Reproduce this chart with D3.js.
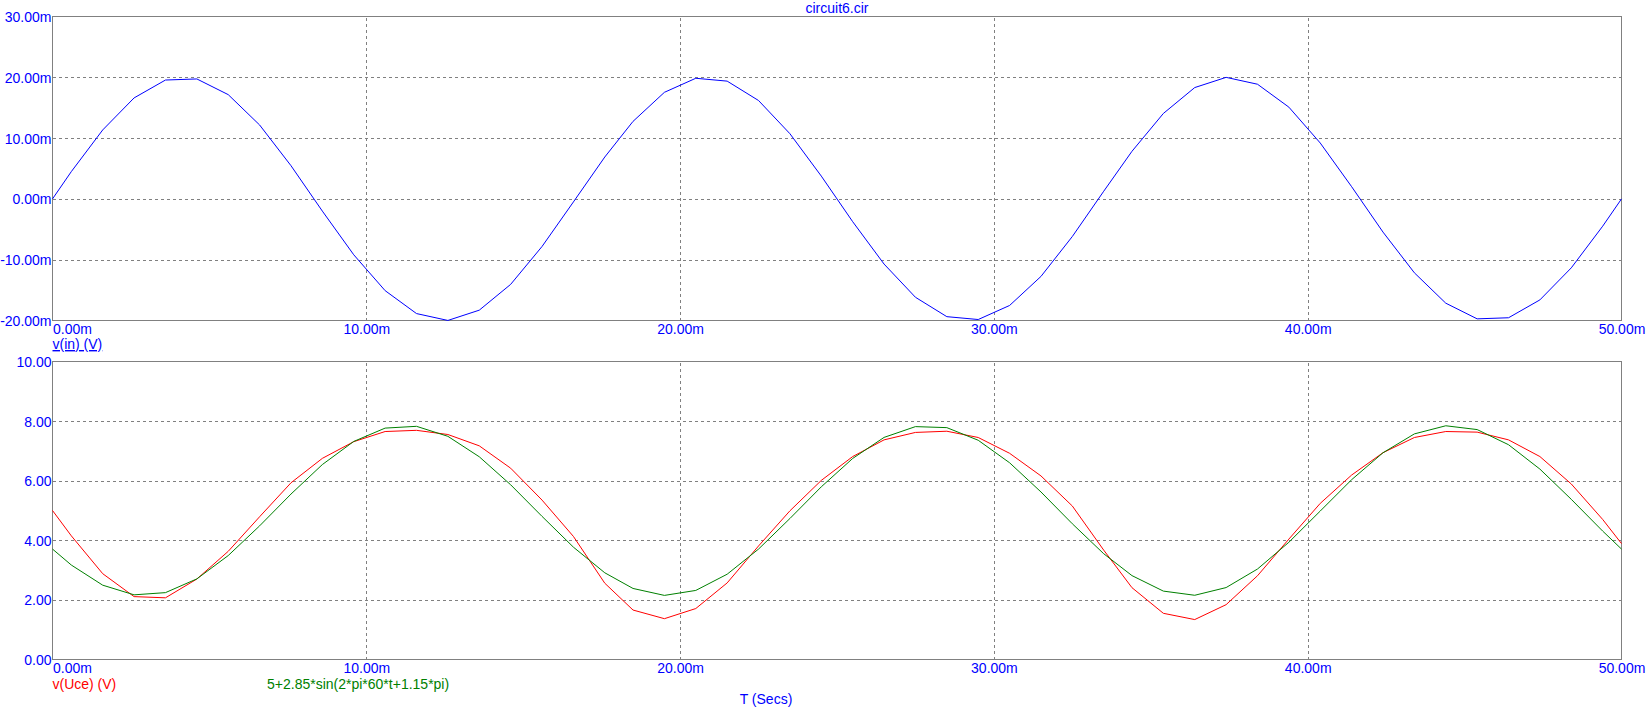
<!DOCTYPE html>
<html>
<head>
<meta charset="utf-8">
<script src="https://cdn.jsdelivr.net/npm/d3@7"></script>
<style>
  html, body { margin: 0; padding: 0; background: #fff; }
  svg { display: block; }
  text { font-family: "Liberation Sans", Arial, sans-serif; font-size: 14px; }
</style>
</head>
<body>
<svg id="chart" width="1649" height="710"></svg>
<script>
// ---- data (time in ms) ----
const timeMs = [0, 0.6, 1.6, 2.6, 3.6, 4.6, 5.6, 6.6, 7.6, 8.6, 9.6, 10.6, 11.6, 12.6, 13.6, 14.6, 15.6, 16.6, 17.6,
  18.5, 19.5, 20.5, 21.5, 22.5, 23.5, 24.5, 25.5, 26.5, 27.5, 28.5, 29.5, 30.5, 31.5, 32.5, 33.5,
  34.4, 35.4, 36.4, 37.4, 38.4, 39.4, 40.4, 41.4, 42.4, 43.4, 44.4, 45.4, 46.4, 47.4, 48.4, 49.4, 50];

// v(in) in mV
const vIn = [0, 4.49, 11.34, 16.61, 19.55, 19.73, 17.15, 12.16, 5.46, -2.01, -9.19, -15.09, -18.86, -19.99, -18.30, -14.06, -7.83, -0.50, 6.89,
  12.75, 17.53, 19.84, 19.37, 16.18, 10.72, 3.75, -3.75, -10.72, -16.18, -19.37, -19.84, -17.53, -12.75, -6.18, 1.26,
  7.83, 14.05, 18.31, 19.99, 18.86, 15.09, 9.19, 2.01, -5.46, -12.16, -17.15, -19.73, -19.55, -16.61, -11.34, -4.49, 0];

// v(Uce) in V
const vUce = [5.00, 4.15, 2.88, 2.11, 2.07, 2.70, 3.63, 4.79, 5.93, 6.75, 7.31, 7.65, 7.69, 7.55, 7.17, 6.42, 5.35, 4.13, 2.56,
  1.66, 1.37, 1.71, 2.57, 3.81, 4.99, 6.01, 6.81, 7.37, 7.62, 7.66, 7.45, 6.92, 6.16, 5.15, 3.67,
  2.41, 1.55, 1.34, 1.84, 2.81, 4.04, 5.24, 6.19, 6.94, 7.45, 7.65, 7.63, 7.37, 6.81, 5.89, 4.70, 3.89];

// fitted curve 5+2.85*sin(2*pi*60*t+1.15*pi) in V
const vFit = [3.706, 3.170, 2.494, 2.170, 2.244, 2.705, 3.488, 4.484, 5.552, 6.542, 7.317, 7.765, 7.825, 7.489, 6.803, 5.864, 4.803, 3.770, 2.910,
  2.384, 2.151, 2.318, 2.862, 3.706, 4.732, 5.795, 6.747, 7.453, 7.815, 7.781, 7.357, 6.602, 5.622, 4.554, 3.549,
  2.815, 2.295, 2.155, 2.414, 3.036, 3.934, 4.982, 6.033, 6.938, 7.571, 7.843, 7.716, 7.207, 6.389, 5.375, 4.309, 3.706];

const xTicks = [0, 10, 20, 30, 40, 50];
const xTickLabels = ["0.00m", "10.00m", "20.00m", "30.00m", "40.00m", "50.00m"];
const topTicks = [-20, -10, 0, 10, 20, 30];
const topTickLabels = ["-20.00m", "-10.00m", "0.00m", "10.00m", "20.00m", "30.00m"];
const botTicks = [0, 2, 4, 6, 8, 10];
const botTickLabels = ["0.00", "2.00", "4.00", "6.00", "8.00", "10.00"];

const titleText = "circuit6.cir";
const topLegend = "v(in) (V)";
const botLegends = ["v(Uce) (V)", "5+2.85*sin(2*pi*60*t+1.15*pi)"];
const xTitle = "T (Secs)";

// ---- layout ----
const BLUE = "#0000ff", RED = "#ff0000", GREEN = "#008000", GRID = "#808080";
const left = 52.5, right = 1621.5;
const svg = d3.select("#chart");

const x = d3.scaleLinear().domain([0, 50]).range([left, right]);
const yTop = d3.scaleLinear().domain([-20, 30]).range([320.5, 16.5]);
const yBot = d3.scaleLinear().domain([0, 10]).range([659.5, 361.5]);

function panel(y, ticks, labels, labelY) {
  const g = svg.append("g");
  const [y0, y1] = y.range();
  const gy = g.append("g").attr("transform", `translate(${left},0)`)
    .call(d3.axisLeft(y).tickValues(ticks.filter((d, i) => i > 0 && i < ticks.length - 1))
      .tickSize(-(right - left)).tickFormat(""));
  gy.select(".domain").remove();
  gy.selectAll("line").attr("stroke", GRID).attr("stroke-dasharray", "3,3").attr("shape-rendering", "crispEdges");
  const gx = g.append("g").attr("transform", `translate(0,${y0})`)
    .call(d3.axisBottom(x).tickValues(xTicks.slice(1, -1)).tickSize(-(y0 - y1)).tickFormat(""));
  gx.select(".domain").remove();
  gx.selectAll("line").attr("stroke", GRID).attr("stroke-dasharray", "3,3").attr("shape-rendering", "crispEdges");
  const ya = g.append("g").attr("transform", `translate(${left},0)`)
    .call(d3.axisLeft(y).tickValues(ticks).tickSize(0).tickPadding(1)
      .tickFormat((d, i) => labels[i]));
  ya.select(".domain").remove();
  ya.selectAll("text").attr("fill", BLUE).attr("font-size", 14)
    .attr("font-family", '"Liberation Sans", Arial, sans-serif').attr("dy", "0.36em");
  const xa = g.append("g").attr("transform", `translate(0,${labelY})`)
    .call(d3.axisBottom(x).tickValues(xTicks).tickSize(0).tickPadding(0)
      .tickFormat((d, i) => xTickLabels[i]));
  xa.select(".domain").remove();
  xa.selectAll("text").attr("fill", BLUE).attr("font-size", 14)
    .attr("font-family", '"Liberation Sans", Arial, sans-serif')
    .attr("dy", 0).attr("y", 0)
    .attr("text-anchor", (d, i) => i === 0 ? "start" : "middle");
  g.append("rect").attr("x", left).attr("y", y1).attr("width", right - left).attr("height", y0 - y1)
    .attr("fill", "none").attr("stroke", GRID).attr("stroke-width", 1).attr("shape-rendering", "crispEdges");
  return g;
}

panel(yTop, topTicks, topTickLabels, 334);
panel(yBot, botTicks, botTickLabels, 673);

function drawLine(y, vals, color) {
  const line = d3.line().x((d, i) => x(timeMs[i])).y(d => y(d));
  svg.append("path").datum(vals).attr("d", line)
    .attr("fill", "none").attr("stroke", color).attr("stroke-width", 1);
}
drawLine(yTop, vIn, BLUE);
drawLine(yBot, vUce, RED);
drawLine(yBot, vFit, GREEN);

svg.append("text").attr("x", (left + right) / 2).attr("y", 13).attr("text-anchor", "middle")
  .attr("fill", BLUE).text(titleText);
svg.append("text").attr("x", left).attr("y", 349).attr("fill", BLUE)
  .attr("text-decoration", "underline").text(topLegend);
svg.append("text").attr("x", left).attr("y", 688.5).attr("fill", RED).text(botLegends[0]);
svg.append("text").attr("x", 267).attr("y", 688.5).attr("fill", GREEN).text(botLegends[1]);
svg.append("text").attr("x", 766).attr("y", 704).attr("text-anchor", "middle").attr("fill", BLUE).text(xTitle);
</script>
</body>
</html>
